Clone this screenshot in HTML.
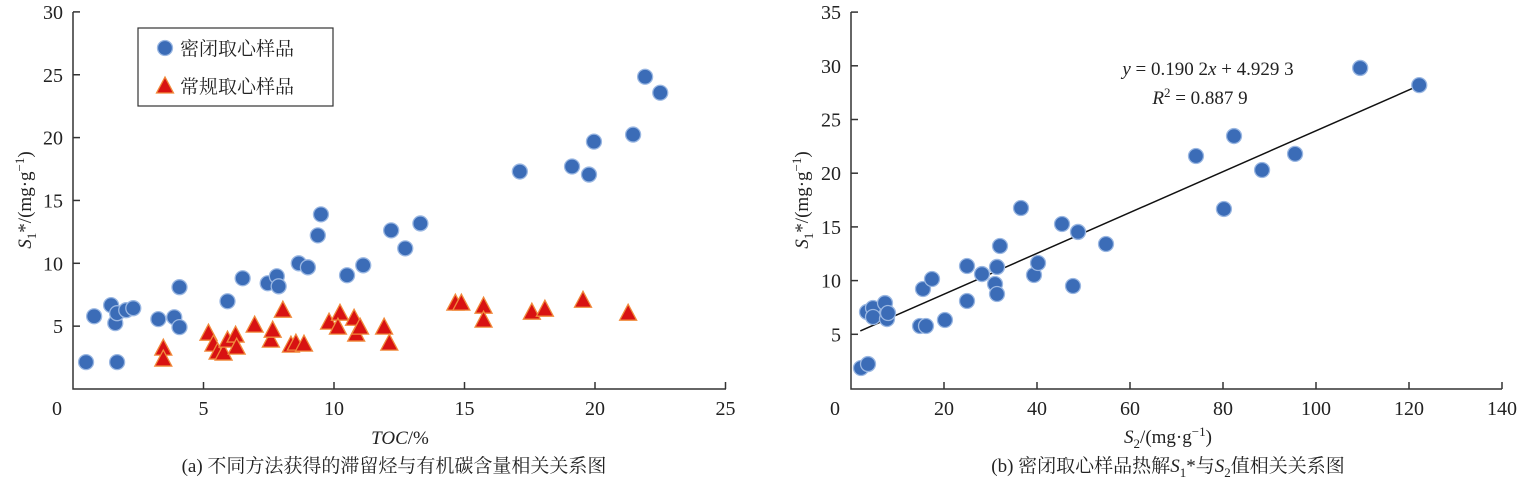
<!DOCTYPE html>
<html><head><meta charset="utf-8">
<style>
body{margin:0;background:#fff;width:1524px;height:487px;overflow:hidden}
svg{font-family:"Liberation Serif","Noto Serif CJK SC",serif}
</style></head><body>
<svg id="s" width="1524" height="487"></svg>
<script>
// Left chart data (TOC %, S1* mg/g)
const sealedTOC=[0.5,0.81,1.46,1.62,1.69,1.69,2.04,2.31,3.27,3.88,4.08,4.08,5.92,6.5,7.46,7.81,7.88,8.65,9.0,9.38,9.5,10.5,11.12,12.19,12.73,13.31,17.12,19.12,19.77,19.96,21.46,21.92,22.5];
const sealedS1=[2.14,5.79,6.67,5.24,6.03,2.14,6.27,6.43,5.56,5.71,4.92,8.1,6.98,8.81,8.41,8.97,8.17,10.0,9.68,12.22,13.89,9.05,9.84,12.62,11.19,13.17,17.3,17.7,17.06,19.68,20.24,24.84,23.57];
const convTOC=[3.46,3.46,5.19,5.38,5.54,5.77,5.92,6.23,6.27,6.96,7.58,7.65,8.04,8.35,8.54,8.85,9.81,10.23,10.15,10.77,10.85,11.0,11.92,12.12,14.65,14.88,15.73,15.73,17.58,18.08,19.54,21.27];
const convS1=[3.25,2.38,4.44,3.57,2.94,2.86,3.89,4.29,3.33,5.08,3.89,4.68,6.27,3.49,3.65,3.57,5.32,6.03,4.92,5.63,4.37,4.92,4.92,3.65,6.83,6.83,6.59,5.48,6.11,6.35,7.06,6.03];
const leftXTicks=[0,5,10,15,20,25];
const leftYTicks=[5,10,15,20,25,30];
// Right chart data (S2, S1*)
const rS2=[2.15,3.66,3.44,4.73,4.73,7.31,7.74,7.96,14.84,16.13,20.2,15.48,17.42,24.95,24.95,28.17,30.97,31.4,31.4,32.04,36.56,39.35,40.22,45.38,47.74,48.82,54.84,74.19,82.37,80.2,88.4,95.5,109.5,122.2];
const rS1=[1.86,2.23,7.08,7.45,6.61,7.91,6.42,6.98,5.77,5.77,6.33,9.22,10.15,8.1,11.36,10.61,9.68,8.75,11.27,13.22,16.76,10.52,11.64,15.27,9.5,14.53,13.41,21.6,23.46,16.67,20.3,21.8,29.8,28.2];
const rightXTicks=[0,20,40,60,80,100,120,140];
const rightYTicks=[5,10,15,20,25,30,35];
const fitSlope=0.1902, fitIntercept=4.9293, fitRange=[2,122];

const NS="http://www.w3.org/2000/svg";
const svg=document.getElementById('s');
function el(tag,attrs,parent,text){const e=document.createElementNS(NS,tag);for(const k in attrs)e.setAttribute(k,attrs[k]);if(text!==undefined)e.textContent=text;(parent||svg).appendChild(e);return e;}

function axes(g,x0,x1,y0,y1,xs,ys,xt,yt){
  const a=el('path',{d:`M${x0} ${y1}V${y0}H${x1}`,stroke:'#333',fill:'none','stroke-width':1.5},g);
  
  
  xt.forEach((v,i)=>{const x=xs(v);
    if(i>0){
    const t=el('line',{x1:x,x2:x,y1:y0,y2:y0-7,stroke:'#333','stroke-width':1.5},g);
    
    }
    const l=el('text',{x:i===0?x-16:x,y:y0+26,'text-anchor':'middle','font-size':20,fill:'#222'},g,v);
    
    
  });
  yt.forEach(v=>{const y=ys(v);
    const t=el('line',{x1:x0,x2:x0+7,y1:y,y2:y,stroke:'#333','stroke-width':1.5},g);
    
    
    const l=el('text',{x:x0-10,y:y+7,'text-anchor':'end','font-size':20,fill:'#222'},g,v);
    
    
  });
}
function circle(g,x,y){const c=el('circle',{cx:x,cy:y,r:7.5,fill:'#3b6cb7',stroke:'#9ab7e2','stroke-width':1.3},g);
  
  }
function tri(g,x,y){const t=el('polygon',{points:`${x},${y-9} ${x-8.5},${y+7} ${x+8.5},${y+7}`,fill:'#d81212',stroke:'#f08a3c','stroke-width':1.3},g);
  
  }

// LEFT
const gL=el('g',{});


const lx=v=>73+v*26.1, ly=v=>389-v*12.57;
axes(gL,73,726,389,12,lx,ly,leftXTicks,leftYTicks);
convTOC.forEach((v,i)=>tri(gL,lx(v),ly(convS1[i])));
sealedTOC.forEach((v,i)=>circle(gL,lx(v),ly(sealedS1[i])));
const lg=el('g',{},gL);


el('rect',{x:138,y:28,width:195,height:78,fill:'#fff',stroke:'#333','stroke-width':1.2},lg);
circle(lg,165,48);tri(lg,165,86);
el('text',{x:180,y:55,'font-size':19,fill:'#222'},lg,'密闭取心样品');
el('text',{x:180,y:93,'font-size':19,fill:'#222'},lg,'常规取心样品');
const ylL=el('text',{transform:'translate(31,200) rotate(-90)','text-anchor':'middle','font-size':19,fill:'#222'},gL);
ylL.innerHTML='<tspan font-style="italic">S</tspan><tspan font-size="13" dy="5">1</tspan><tspan dy="-5">*/(mg·g</tspan><tspan font-size="13" dy="-7">−1</tspan><tspan dy="7">)</tspan>';


const xlL=el('text',{x:400,y:444,'text-anchor':'middle','font-size':19,fill:'#222'},gL);
xlL.innerHTML='<tspan font-style="italic">TOC</tspan>/%';


const capL=el('text',{x:394,y:472,'text-anchor':'middle','font-size':19,fill:'#222'},gL,'(a) 不同方法获得的滞留烃与有机碳含量相关关系图');



// RIGHT
const gR=el('g',{});


const rx=v=>851+v*4.65, ry=v=>388-v*10.74;
axes(gR,851,1502,389,12,rx,ry,rightXTicks,rightYTicks);
const fl=el('line',{x1:rx(fitRange[0]),y1:ry(fitSlope*fitRange[0]+fitIntercept),x2:rx(fitRange[1]),y2:ry(fitSlope*fitRange[1]+fitIntercept),stroke:'#111','stroke-width':1.5},gR);


rS2.forEach((v,i)=>circle(gR,rx(v),ry(rS1[i])));
const eq=el('text',{x:1208,y:75,'text-anchor':'middle','font-size':19,fill:'#222'},gR);
eq.innerHTML='<tspan font-style="italic">y</tspan> = 0.190 2<tspan font-style="italic">x</tspan> + 4.929 3';


const r2=el('text',{x:1200,y:104,'text-anchor':'middle','font-size':19,fill:'#222'},gR);
r2.innerHTML='<tspan font-style="italic">R</tspan><tspan font-size="13" dy="-7">2</tspan><tspan dy="7"> = 0.887 9</tspan>';


const ylR=el('text',{transform:'translate(808,200) rotate(-90)','text-anchor':'middle','font-size':19,fill:'#222'},gR);
ylR.innerHTML='<tspan font-style="italic">S</tspan><tspan font-size="13" dy="5">1</tspan><tspan dy="-5">*/(mg·g</tspan><tspan font-size="13" dy="-7">−1</tspan><tspan dy="7">)</tspan>';


const xlR=el('text',{x:1168,y:443,'text-anchor':'middle','font-size':19,fill:'#222'},gR);
xlR.innerHTML='<tspan font-style="italic">S</tspan><tspan font-size="13" dy="5">2</tspan><tspan dy="-5">/(mg·g</tspan><tspan font-size="13" dy="-7">−1</tspan><tspan dy="7">)</tspan>';


const capR=el('text',{x:1168,y:472,'text-anchor':'middle','font-size':19,fill:'#222'},gR);
capR.innerHTML='(b) 密闭取心样品热解<tspan font-style="italic">S</tspan><tspan font-size="13" dy="5">1</tspan><tspan dy="-5">*与</tspan><tspan font-style="italic">S</tspan><tspan font-size="13" dy="5">2</tspan><tspan dy="-5">值相关关系图</tspan>';


</script>
</body></html>
